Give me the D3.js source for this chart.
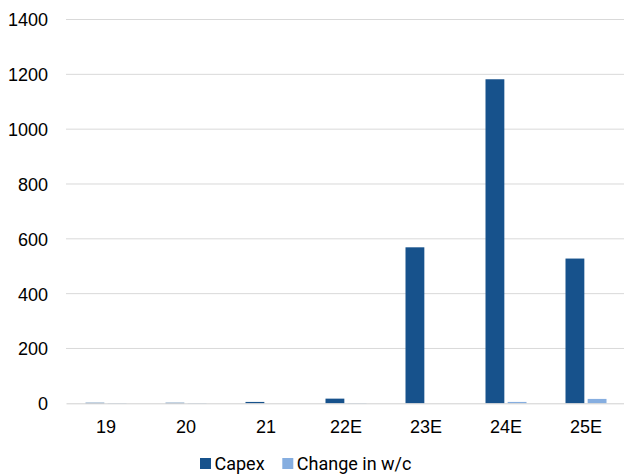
<!DOCTYPE html>
<html>
<head>
<meta charset="utf-8">
<script src="https://cdn.jsdelivr.net/npm/d3@7"></script>
<style>
  body { margin: 0; background: #fff; }
  svg { font-family: Roboto, "Open Sans", sans-serif; }
  .tick text { fill: #000; }
</style>
</head>
<body>
<div id="chart"></div>
<script>
// chart data
const years = ["19", "20", "21", "22E", "23E", "24E", "25E"]
const capex = [2, 2, 5, 17, 569, 1182, 528]
const changeWc = [1, 1, 0, 1, 0, 5, 16]
const yTicks = [0, 200, 400, 600, 800, 1000, 1200, 1400]
const seriesNames = ["Capex", "Change in w/c"]
const colors = ["#17528c", "#86aee0"]

const W = 624, H = 474
const margin = { top: 19.5, right: -2, bottom: 70.7, left: 66 }
const width = W - margin.left - margin.right
const height = H - margin.top - margin.bottom

const svg = d3.select("#chart").append("svg")
  .attr("width", W)
  .attr("height", H)

const g = svg.append("g")
  .attr("transform", "translate(" + margin.left + "," + margin.top + ")")

const x = d3.scaleBand()
  .domain(years)
  .range([0, width])

const inner = d3.scaleBand()
  .domain(seriesNames)
  .range([19.5, x.bandwidth() - 19.5])
  .paddingInner(0.15)

const y = d3.scaleLinear()
  .domain([0, 1400])
  .range([height, 0])

// gridlines
g.append("g")
  .selectAll("line")
  .data(yTicks.filter(d => d > 0))
  .enter().append("line")
    .attr("x1", 0)
    .attr("x2", width)
    .attr("y1", d => y(d))
    .attr("y2", d => y(d))
    .attr("stroke", "#d9d9d9")
    .attr("stroke-width", 1)

// y axis labels
const yAxis = d3.axisLeft(y).tickValues(yTicks).tickSize(0).tickPadding(18)
  .tickFormat(d3.format("d"))
g.append("g")
  .call(yAxis)
  .call(s => s.select(".domain").remove())
  .selectAll("text")
    .style("font-size", "18px")
    .attr("dy", "0.36em")

// bars
const rows = years.map((yr, i) => ({ yr: yr, vals: [capex[i], changeWc[i]] }))

const groups = g.selectAll(".grp")
  .data(rows)
  .enter().append("g")
    .attr("class", "grp")
    .attr("transform", d => "translate(" + x(d.yr) + ",0)")

groups.selectAll("rect")
  .data(d => d.vals.map((v, i) => ({ name: seriesNames[i], v: v, c: colors[i] })))
  .enter().append("rect")
    .attr("x", d => inner(d.name))
    .attr("width", inner.bandwidth())
    .attr("y", d => y(d.v))
    .attr("height", d => y(0) - y(d.v))
    .attr("fill", d => d.c)

// x axis
const xAxis = d3.axisBottom(x).tickSize(0).tickPadding(17)
g.append("g")
  .attr("transform", "translate(0," + height + ")")
  .call(xAxis)
  .call(s => s.select(".domain").attr("stroke", "#d0d0d0"))
  .selectAll("text")
    .style("font-size", "18px")

// legend
const legend = svg.append("g")
  .attr("transform", "translate(200,458)")

const items = legend.selectAll(".legend")
  .data(seriesNames)
  .enter().append("g")
    .attr("class", "legend")
    .attr("transform", (d, i) => "translate(" + (i * 82.3) + ",0)")

items.append("rect")
  .attr("width", 11)
  .attr("height", 11)
  .attr("fill", (d, i) => colors[i])

items.append("text")
  .attr("x", 14.5)
  .attr("y", 5.5)
  .attr("dy", "0.36em")
  .style("font-size", "18px")
  .text(d => d)
</script>
</body>
</html>
